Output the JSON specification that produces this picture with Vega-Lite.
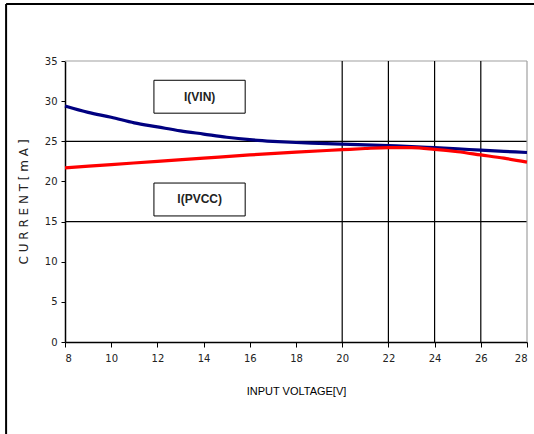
{
  "$schema": "https://vega.github.io/schema/vega-lite/v6.json",
  "width": 462,
  "height": 281,
  "autosize": "none",
  "padding": {"left": 65, "top": 61, "right": 7, "bottom": 92},
  "background": "white",
  "config": {"view": {"stroke": null}, "font": "Liberation Sans"},
  "datasets": {
    "curves": [
      {"v": 8, "i": 29.4, "s": "I(VIN)"}, {"v": 9, "i": 28.6, "s": "I(VIN)"}, {"v": 10, "i": 28.0, "s": "I(VIN)"},
      {"v": 11, "i": 27.3, "s": "I(VIN)"}, {"v": 12, "i": 26.8, "s": "I(VIN)"}, {"v": 13, "i": 26.3, "s": "I(VIN)"},
      {"v": 14, "i": 25.9, "s": "I(VIN)"}, {"v": 15, "i": 25.5, "s": "I(VIN)"}, {"v": 16, "i": 25.2, "s": "I(VIN)"},
      {"v": 17, "i": 25.0, "s": "I(VIN)"}, {"v": 18, "i": 24.85, "s": "I(VIN)"}, {"v": 19, "i": 24.75, "s": "I(VIN)"},
      {"v": 20, "i": 24.65, "s": "I(VIN)"}, {"v": 21, "i": 24.55, "s": "I(VIN)"}, {"v": 22, "i": 24.45, "s": "I(VIN)"},
      {"v": 23, "i": 24.35, "s": "I(VIN)"}, {"v": 24, "i": 24.2, "s": "I(VIN)"}, {"v": 25, "i": 24.05, "s": "I(VIN)"},
      {"v": 26, "i": 23.9, "s": "I(VIN)"}, {"v": 27, "i": 23.75, "s": "I(VIN)"}, {"v": 28, "i": 23.6, "s": "I(VIN)"},
      {"v": 8, "i": 21.7, "s": "I(PVCC)"}, {"v": 10, "i": 22.1, "s": "I(PVCC)"}, {"v": 12, "i": 22.5, "s": "I(PVCC)"},
      {"v": 14, "i": 22.9, "s": "I(PVCC)"}, {"v": 16, "i": 23.3, "s": "I(PVCC)"}, {"v": 18, "i": 23.65, "s": "I(PVCC)"},
      {"v": 20, "i": 23.95, "s": "I(PVCC)"}, {"v": 21, "i": 24.1, "s": "I(PVCC)"}, {"v": 22, "i": 24.2, "s": "I(PVCC)"},
      {"v": 23, "i": 24.2, "s": "I(PVCC)"}, {"v": 24, "i": 24.0, "s": "I(PVCC)"}, {"v": 25, "i": 23.7, "s": "I(PVCC)"},
      {"v": 26, "i": 23.3, "s": "I(PVCC)"}, {"v": 27, "i": 22.9, "s": "I(PVCC)"}, {"v": 28, "i": 22.4, "s": "I(PVCC)"}
    ],
    "hgrid": [
      {"y": 15, "c": "black"}, {"y": 25, "c": "black"}, {"y": 35, "c": "#a0a0a0"}
    ],
    "vgrid": [
      {"x": 20, "c": "black"}, {"x": 22, "c": "black"}, {"x": 24, "c": "black"}, {"x": 26, "c": "black"}, {"x": 28, "c": "#a0a0a0"}
    ],
    "boxes": [
      {"x1": 11.85, "x2": 15.8, "y1": 28.5, "y2": 32.6, "xm": 13.83, "ym": 30.55, "t": "I(VIN)"},
      {"x1": 11.85, "x2": 15.8, "y1": 15.7, "y2": 19.8, "xm": 13.83, "ym": 17.75, "t": "I(PVCC)"}
    ],
    "frame": [
      {"x1": 5.45, "x2": 5.45, "y1": -11.5, "y2": 42.1},
      {"x1": 5.45, "x2": 28.6, "y1": 42.1, "y2": 42.1}
    ]
  },
  "encoding": {},
  "layer": [
    {
      "data": {"name": "hgrid"},
      "mark": {"type": "rule", "strokeWidth": 1.2},
      "encoding": {
        "y": {"field": "y", "type": "quantitative", "scale": {"domain": [0, 35], "nice": false}},
        "color": {"field": "c", "type": "nominal", "scale": null}
      }
    },
    {
      "data": {"name": "vgrid"},
      "mark": {"type": "rule", "strokeWidth": 1.2},
      "encoding": {
        "x": {"field": "x", "type": "quantitative", "scale": {"domain": [8, 28], "nice": false}},
        "color": {"field": "c", "type": "nominal", "scale": null}
      }
    },
    {
      "data": {"name": "curves"},
      "mark": {"type": "line", "strokeWidth": 3.2, "interpolate": "monotone"},
      "encoding": {
        "x": {
          "field": "v", "type": "quantitative",
          "scale": {"domain": [8, 28], "nice": false},
          "axis": {
            "values": [8, 10, 12, 14, 16, 18, 20, 22, 24, 26, 28],
            "title": "INPUT VOLTAGE[V]", "titleFont": "Liberation Sans", "titleFontSize": 11, "titleFontWeight": "normal",
            "titlePadding": 22, "titleColor": "black",
            "labelFont": "DejaVu Sans", "labelFontSize": 10, "labelColor": "#222", "labelPadding": 6,
            "domainColor": "black", "domainWidth": 1.5, "tickColor": "black", "tickSize": 5, "tickWidth": 1, "grid": false
          }
        },
        "y": {
          "field": "i", "type": "quantitative",
          "scale": {"domain": [0, 35], "nice": false},
          "axis": {
            "values": [0, 5, 10, 15, 20, 25, 30, 35],
            "title": "C U R R E N T  [ m A ]", "titleFont": "DejaVu Sans", "titleFontSize": 12, "titleFontWeight": "normal",
            "titlePadding": 14, "titleColor": "#222",
            "labelFont": "DejaVu Sans", "labelFontSize": 10, "labelColor": "#222", "labelPadding": 4,
            "domainColor": "black", "domainWidth": 1.5, "tickColor": "black", "tickSize": 4, "tickWidth": 1, "grid": false
          }
        },
        "color": {
          "field": "s", "type": "nominal",
          "scale": {"domain": ["I(VIN)", "I(PVCC)"], "range": ["#000080", "#ff0000"]},
          "legend": null
        }
      }
    },
    {
      "data": {"name": "boxes"},
      "mark": {"type": "rect", "fill": "white", "stroke": "black", "strokeWidth": 1},
      "encoding": {
        "x": {"field": "x1", "type": "quantitative"},
        "x2": {"field": "x2"},
        "y": {"field": "y1", "type": "quantitative"},
        "y2": {"field": "y2"}
      }
    },
    {
      "data": {"name": "boxes"},
      "mark": {"type": "text", "font": "Liberation Sans", "fontSize": 12, "fontWeight": "bold", "color": "#222"},
      "encoding": {
        "x": {"field": "xm", "type": "quantitative"},
        "y": {"field": "ym", "type": "quantitative"},
        "text": {"field": "t"}
      }
    },
    {
      "data": {"name": "frame"},
      "mark": {"type": "rule", "color": "black", "strokeWidth": 2, "clip": false},
      "encoding": {
        "x": {"field": "x1", "type": "quantitative"},
        "x2": {"field": "x2"},
        "y": {"field": "y1", "type": "quantitative"},
        "y2": {"field": "y2"}
      }
    }
  ]
}
